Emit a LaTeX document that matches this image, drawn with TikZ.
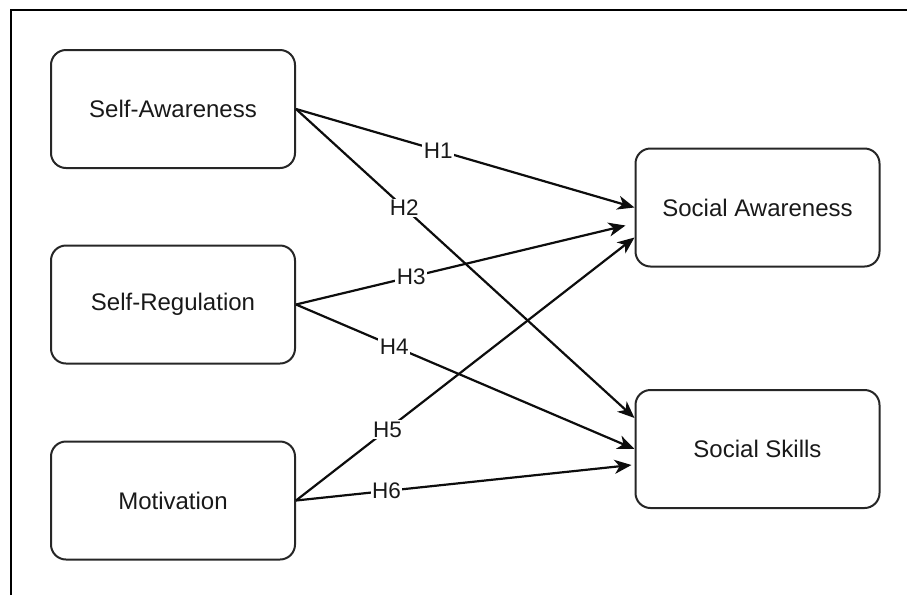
\documentclass[tikz,border=0pt]{standalone}
\usepackage{fontspec}
\setmainfont{Liberation Sans}
\usetikzlibrary{arrows.meta,calc}
\begin{document}
\begin{tikzpicture}[x=1pt,y=-1pt,
  box/.style={draw=black!85, line width=2pt, rounded corners=15pt, minimum width=244pt, minimum height=118pt, inner sep=0pt, font=\fontsize{24}{28}\selectfont, text=black!90},
  conn/.style={line width=2.2pt, black!95, -{Stealth[length=17pt,width=14pt,inset=5pt]}},
  lbl/.style={fill=white, inner sep=1.5pt, font=\fontsize{22.5}{26}\selectfont, text=black!90}]
\useasboundingbox (0,0) rectangle (907,595);
\draw[line width=2.6pt] (11,595) -- (11,10) -- (907,10);

\node[box] (sa) at (173,109) {Self-Awareness};
\node[box] (sr) at (173,304.5) {Self-Regulation};
\node[box] (mo) at (173,500.5) {Motivation};
\node[box] (saw) at (757.5,207.5) {Social Awareness};
\node[box] (ss) at (757.5,449) {Social Skills};

\coordinate (t3) at ($(saw.west)+(-9,18)$);
\coordinate (t5) at ($(saw.west)+(0,30)$);
\coordinate (t2) at ($(ss.west)+(0,-31)$);
\coordinate (t6) at ($(ss.west)+(-3,16)$);

\draw[conn] (sa.east) -- node[lbl,pos=0.42] {H1} (saw.west);
\draw[conn] (sa.east) -- node[lbl,pos=0.32] {H2} (t2);
\draw[conn] (sr.east) -- node[lbl,pos=0.35] {H3} (t3);
\draw[conn] (sr.east) -- node[lbl,pos=0.29] {H4} (ss.west);
\draw[conn] (mo.east) -- node[lbl,pos=0.27] {H5} (t5);
\draw[conn] (mo.east) -- node[lbl,pos=0.27] {H6} (t6);
\end{tikzpicture}
\end{document}
